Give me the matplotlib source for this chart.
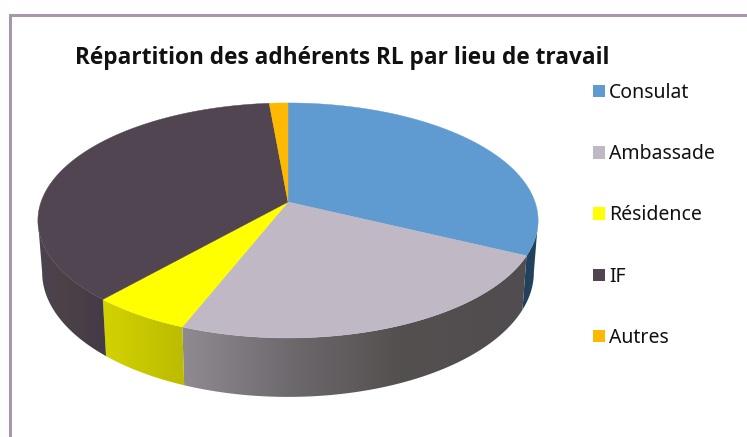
#!/usr/bin/env python3
"""3D-look pie of RL members by workplace, drawn on a pixel-sized axes."""

import numpy as np
import matplotlib
matplotlib.use("Agg")
import matplotlib.pyplot as plt
from matplotlib.patches import Patch, Polygon

W, H = 747, 437

title = "Répartition des adhérents RL par lieu de travail"
labels = ["Consulat", "Ambassade", "Résidence", "IF", "Autres"]
values = [32.2, 23.75, 5.55, 37.1, 1.4]
colors = ["#5f9bd1", "#c0b9c5", "#ffff00", "#504550", "#ffb900"]

# side wall shading: (screen x, colour) pairs per slice
side_shades = [
    [(520, "#1f3f5c"), (540, "#24445f")],
    [(185, "#8f8a90"), (300, "#6b666a"), (400, "#55504f"), (525, "#504c50")],
    [(105, "#d2d200"), (185, "#bcbb00")],
    [(40, "#4a4350"), (60, "#4c4248"), (105, "#433b46")],
    [(0, "#cc9400"), (747, "#cc9400")],
]

CX, CY = 288, 202
A, B, C = 114.6, 0.157, 247.0


def project(theta, low=False):
    # theta in degrees clockwise from the top of the disc
    t = np.radians(theta)
    u, v = np.sin(t), np.cos(t)
    den = 1 + B * v
    dx = C * u / den
    dy = -A * v / den
    if low:
        return CX + 0.983 * dx, CY + 50.8 + 1.06 * dy
    return CX + dx, CY + dy


def gradient(stops):
    xs = np.arange(W) + 0.5
    rgb = np.array([matplotlib.colors.to_rgb(s[1]) for s in stops])
    px = [s[0] for s in stops]
    return np.stack([np.interp(xs, px, rgb[:, i]) for i in range(3)], axis=-1)[None, :, :]


fig = plt.figure(figsize=(W / 100, H / 100), dpi=100)
ax = fig.add_axes([0, 0, 1, 1])

# frame, open on the right and at the bottom
ax.plot([10, 10, W], [H, 14.5, 14.5], color="#a698aa", lw=2.2, solid_joinstyle="miter")

edges = np.concatenate([[0], np.cumsum(values)]) / sum(values) * 360

# side walls first, the top disc then hides what is behind it
# only between the two silhouette angles, past them the strip folds over itself
for i in range(len(values)):
    start, stop = max(edges[i], 99), min(edges[i + 1], 261)
    if stop <= start:
        continue
    t = np.linspace(start, stop, 200)
    xt, yt = project(t)
    xl, yl = project(t, low=True)
    wall = Polygon(np.c_[np.r_[xt, xl[::-1]], np.r_[yt, yl[::-1]]], transform=ax.transData,
                   facecolor="none", edgecolor="none")
    ax.add_patch(wall)
    im = ax.imshow(gradient(side_shades[i]), extent=(0, W, H, 0), aspect="auto",
                   interpolation="bilinear")
    im.set_clip_path(wall)

for i, col in enumerate(colors):
    t = np.linspace(edges[i], edges[i + 1], int(values[i] * 8) + 4)
    x, y = project(t)
    ax.fill(np.r_[CX, x], np.r_[CY, y], color=col, lw=0.3)

ax.set_xlim(0, W)
ax.set_ylim(H, 0)
ax.axis("off")

ax.text(75, 57.5, title, fontsize=16.25, fontweight="bold", family="Open Sans",
        color="#111111", va="center", ha="left")

handles = [Patch(facecolor=c, edgecolor="none") for c in colors]
ax.legend(handles, labels, loc="upper left", bbox_to_anchor=(592.5 / W, 1 - 83 / H),
          frameon=False, prop={"family": "Noto Sans", "size": 14},
          handlelength=0.62, handleheight=0.62, handletextpad=0.22,
          labelspacing=2.12, borderpad=0, borderaxespad=0, labelcolor="#111111")

fig.savefig("out.png", dpi=100)
